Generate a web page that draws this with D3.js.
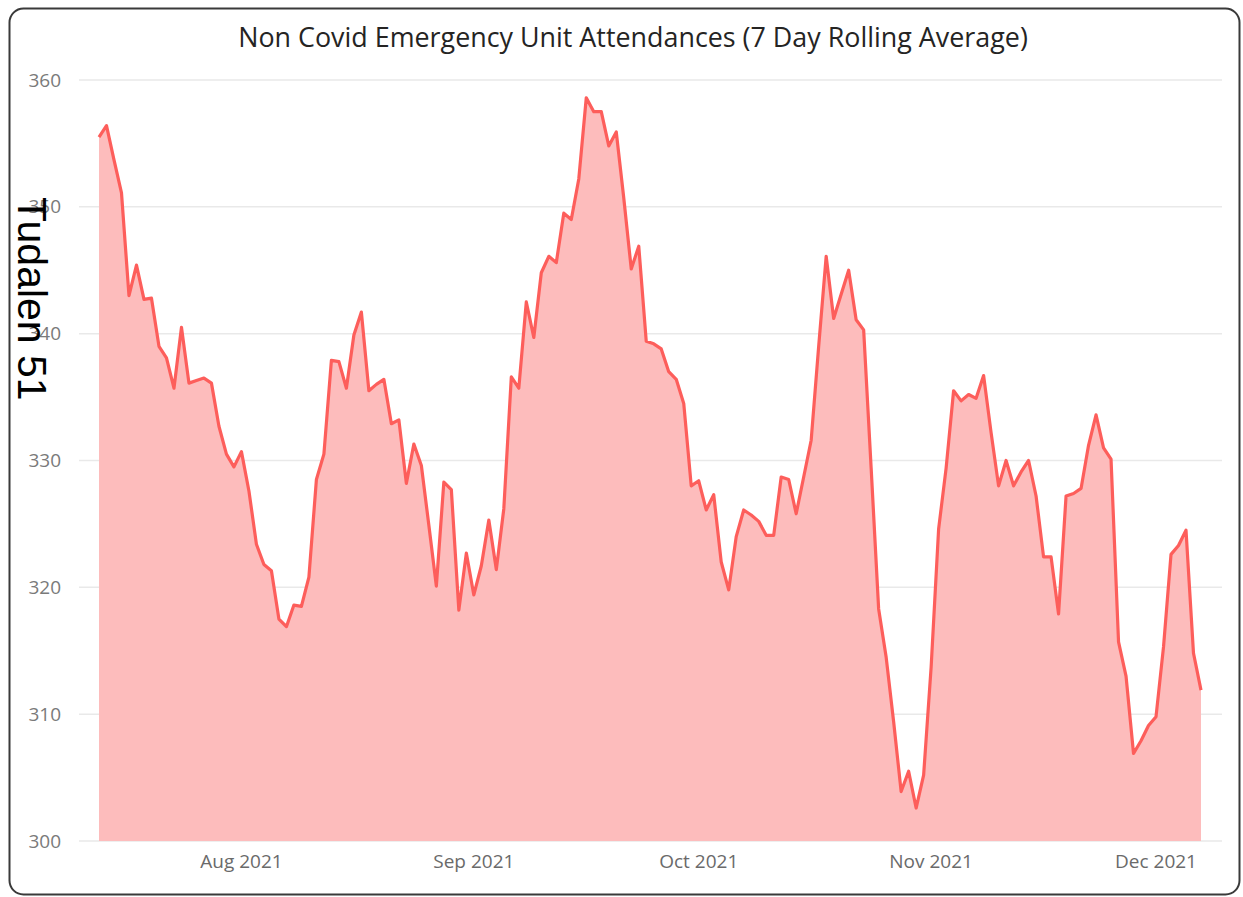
<!DOCTYPE html>
<html>
<head>
<meta charset="utf-8">
<script src="https://cdn.jsdelivr.net/npm/d3@7"></script>
<style>
  html, body { margin: 0; padding: 0; background: #ffffff; }
  svg { display: block; }
</style>
</head>
<body>
<svg id="chart" width="1243" height="897"></svg>
<script>
const titleText = "Non Covid Emergency Unit Attendances (7 Day Rolling Average)";
const sideLabel = "Tudalen 51";
const startDate = "2021-07-13";
const yTicks = [300, 310, 320, 330, 340, 350, 360];
const xTickLabels = ["Aug 2021", "Sep 2021", "Oct 2021", "Nov 2021", "Dec 2021"];
const xTickDates = ["2021-08-01", "2021-09-01", "2021-10-01", "2021-11-01", "2021-12-01"];
// daily 7-day rolling average values, 13 Jul 2021 - 7 Dec 2021
const values = [
  355.5, 356.4, 353.7, 351.1, 343.0, 345.4, 342.7, 342.8, 339.0, 338.1,
  335.7, 340.5, 336.1, 336.3, 336.5, 336.1, 332.7, 330.5, 329.5, 330.7,
  327.6, 323.4, 321.8, 321.3, 317.5, 316.9, 318.6, 318.5, 320.8, 328.5,
  330.5, 337.9, 337.8, 335.7, 339.9, 341.7, 335.5, 336.0, 336.4, 332.9,
  333.2, 328.2, 331.3, 329.6, 324.9, 320.1, 328.3, 327.7, 318.2, 322.7,
  319.4, 321.7, 325.3, 321.4, 326.2, 336.6, 335.7, 342.5, 339.7, 344.8,
  346.1, 345.6, 349.5, 349.0, 352.2, 358.6, 357.5, 357.5, 354.8, 355.9,
  350.7, 345.1, 346.9, 339.4, 339.2, 338.8, 337.0, 336.4, 334.5, 328.0,
  328.4, 326.1, 327.3, 322.0, 319.8, 324.0, 326.1, 325.7, 325.2, 324.1,
  324.1, 328.7, 328.5, 325.8, 328.7, 331.6, 339.0, 346.1, 341.2, 343.1,
  345.0, 341.1, 340.3, 329.4, 318.3, 314.5, 309.4, 303.9, 305.5, 302.6,
  305.2, 313.7, 324.6, 329.4, 335.5, 334.7, 335.2, 334.9, 336.7, 332.2,
  328.0, 330.0, 328.0, 329.1, 330.0, 327.2, 322.4, 322.4, 317.9, 327.2,
  327.4, 327.8, 331.2, 333.6, 331.0, 330.1, 315.7, 313.0, 306.9, 307.9,
  309.1, 309.8, 315.3, 322.6, 323.3, 324.5, 314.8, 311.9
];

const parse = d3.utcParse("%Y-%m-%d");
const t0 = parse(startDate);
const data = values.map((v, i) => ({ date: d3.utcDay.offset(t0, i), value: v }));

const svg = d3.select("#chart");
const uiFont = "'Segoe UI', 'Open Sans', 'Noto Sans', sans-serif";

// frame
svg.append("rect")
  .attr("x", 9.5).attr("y", 8.5)
  .attr("width", 1230).attr("height", 886)
  .attr("rx", 14).attr("ry", 14)
  .attr("fill", "#ffffff")
  .attr("stroke", "#3a3a3a")
  .attr("stroke-width", 2);

const x = d3.scaleUtc()
  .domain([data[0].date, data[data.length - 1].date])
  .range([99, 1201]);
const y = d3.scaleLinear().domain([300, 360]).range([841, 80]);

// gridlines
svg.append("g").selectAll("line")
  .data(yTicks)
  .join("line")
  .attr("x1", 79).attr("x2", 1222)
  .attr("y1", d => y(d)).attr("y2", d => y(d))
  .attr("stroke", "#e9e9e9")
  .attr("stroke-width", 1.5);

// y labels
svg.append("g").selectAll("text")
  .data(yTicks)
  .join("text")
  .attr("x", 61).attr("y", d => y(d))
  .attr("dy", "0.35em")
  .attr("text-anchor", "end")
  .attr("font-family", uiFont)
  .attr("font-size", 19)
  .attr("fill", "#7a7a7a")
  .text(d => d);

// x labels
const xt = xTickDates.map(parse);
svg.append("g").selectAll("text")
  .data(xt)
  .join("text")
  .attr("x", d => x(d)).attr("y", 868)
  .attr("text-anchor", "middle")
  .attr("font-family", uiFont)
  .attr("font-size", 19)
  .attr("fill", "#6a6a6a")
  .text((d, i) => xTickLabels[i]);

// area
const area = d3.area()
  .x(d => x(d.date))
  .y0(y(300))
  .y1(d => y(d.value));
svg.append("path")
  .datum(data)
  .attr("d", area)
  .attr("fill", "#fdbcbc");

const line = d3.line()
  .x(d => x(d.date))
  .y(d => y(d.value));
svg.append("path")
  .datum(data)
  .attr("d", line)
  .attr("fill", "none")
  .attr("stroke", "#fd5e5b")
  .attr("stroke-width", 3.2)
  .attr("stroke-linejoin", "round");

// title
const title = svg.append("text")
  .attr("x", 633).attr("y", 47)
  .attr("text-anchor", "middle")
  .attr("font-family", uiFont)
  .attr("font-size", 24)
  .attr("fill", "#252423")
  .text(titleText);
const tw = title.node().getComputedTextLength();
title.attr("font-size", 24 * 790 / tw);

// side label
svg.append("text")
  .attr("transform", "translate(18,197) rotate(90)")
  .attr("font-family", "'Liberation Sans', Arial, sans-serif")
  .attr("font-size", 41)
  .attr("fill", "#000000")
  .text(sideLabel);
</script>
</body>
</html>
